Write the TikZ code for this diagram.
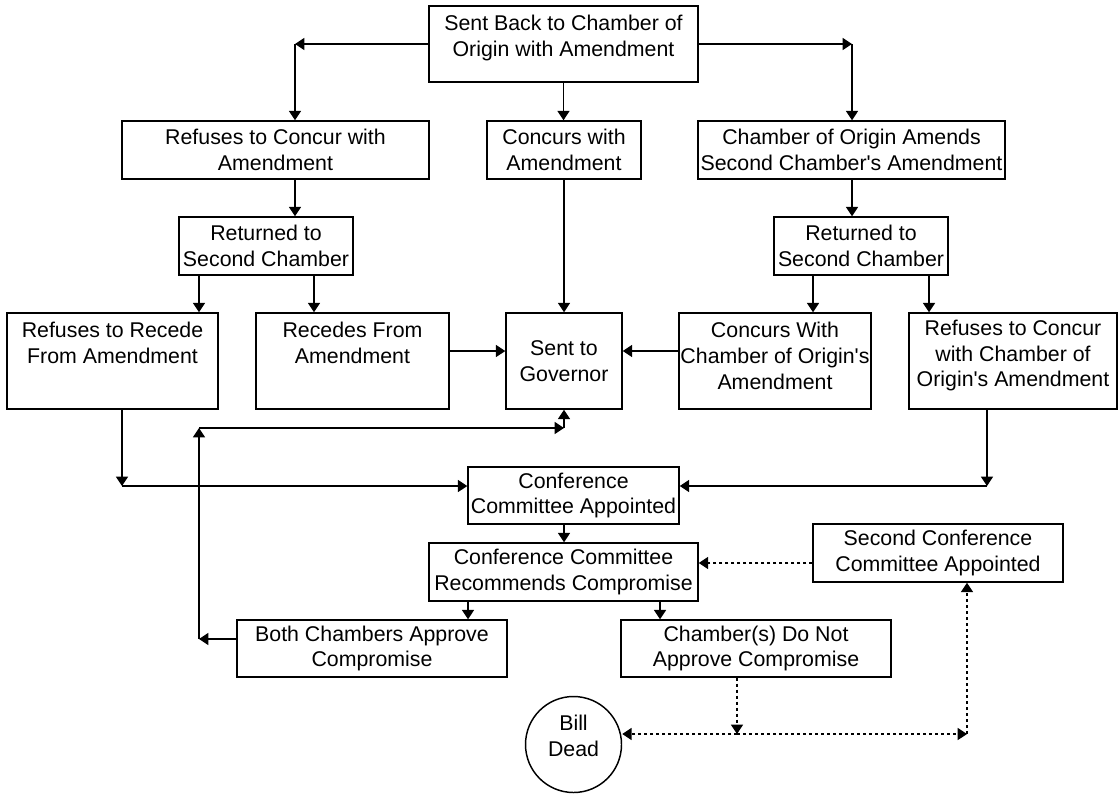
\documentclass[tikz,border=0pt]{standalone}
\usepackage{fontspec}
\newfontfamily\arialf{Liberation Sans}
\usetikzlibrary{arrows.meta}
\begin{document}
\begin{tikzpicture}[x=0.75pt,y=-0.75pt,
  every node/.style={font=\arialf\fontsize{16}{19.3}\selectfont},
  box/.style={draw,line width=1.1pt,rectangle,inner sep=0pt,align=center},
  lbl/.style={align=center,inner sep=0pt,font=\arialf\fontsize{16}{19.3}\selectfont},
  arr/.style={line width=1.1pt,-{Triangle[length=7pt,width=9pt]}},
  dotline/.style={dash pattern=on 2.25pt off 2.25pt}]
\useasboundingbox (0,0) rectangle (1119,793);
% boxes
\node[box,minimum width=201.75pt,minimum height=57pt,
  label={[lbl,yshift=4.5pt]center:{Sent Back to Chamber of\\Origin with Amendment}}] (T) at (563.5,44) {};
\node[box,minimum width=230.25pt,minimum height=43.5pt] (R1) at (275.5,150) {Refuses to Concur with\\Amendment};
\node[box,minimum width=115.5pt,minimum height=43.5pt] (C1) at (564,150) {Concurs with\\Amendment};
\node[box,minimum width=230.25pt,minimum height=43.5pt] (A1) at (851.5,150) {Chamber of Origin Amends\\Second Chamber's Amendment};
\node[box,minimum width=130.5pt,minimum height=43.5pt] (RT1) at (266,246) {Returned to\\Second Chamber};
\node[box,minimum width=130.5pt,minimum height=43.5pt] (RT2) at (861,246) {Returned to\\Second Chamber};
\node[box,minimum width=158.25pt,minimum height=72pt,
  label={[lbl,yshift=13.5pt]center:{Refuses to Recede\\From Amendment}}] (RR) at (112.5,361) {};
\node[box,minimum width=144.75pt,minimum height=72pt,
  label={[lbl,yshift=13.5pt]center:{Recedes From\\Amendment}}] (RF) at (352.5,361) {};
\node[box,minimum width=87pt,minimum height=72pt] (SG) at (564,361) {Sent to\\Governor};
\node[box,minimum width=144pt,minimum height=72pt,
  label={[lbl,yshift=4pt]center:{Concurs With\\Chamber of Origin's\\Amendment}}] (CW) at (775,361) {};
\node[box,minimum width=156pt,minimum height=72pt,
  label={[lbl,yshift=4pt]center:{Refuses to Concur\\with Chamber of\\Origin's Amendment}}] (RC) at (1013,361) {};
\node[box,minimum width=158.25pt,minimum height=42.75pt] (CA) at (573.5,495.5) {Conference\\Committee Appointed};
\node[box,minimum width=201.75pt,minimum height=43.5pt] (CR) at (563.5,572) {Conference Committee\\Recommends Compromise};
\node[box,minimum width=187.5pt,minimum height=43.5pt] (SC) at (938,553) {Second Conference\\Committee Appointed};
\node[box,minimum width=202.5pt,minimum height=42.75pt] (BC) at (372,648.5) {Both Chambers Approve\\Compromise};
\node[box,minimum width=202.5pt,minimum height=42.75pt] (CN) at (756,648.5) {Chamber(s) Do Not\\Approve Compromise};
\node[draw,line width=1.1pt,circle,inner sep=0pt,minimum size=72pt,
  label={[lbl,yshift=6.6pt]center:{Bill\\Dead}}] (BD) at (573.5,744.5) {};
% helper coordinates
\coordinate (kL) at (295,44);
\coordinate (kR) at (852,44);
\coordinate (kRR) at (122,486);
\coordinate (kRC) at (987,486);
\coordinate (kB1) at (199,639);
\coordinate (kB2) at (199,428);
\coordinate (kB3) at (564,428);
\coordinate (kD) at (737,734);
\coordinate (kS) at (967,734);
\coordinate (xRF) at (314,0);
\coordinate (xCW) at (813,0);
\coordinate (xRC) at (929,0);
\coordinate (xBC) at (468,0);
\coordinate (xCN) at (660,0);
\coordinate (yG) at (0,351);
\coordinate (ySC) at (0,563);
% connectors
\draw[arr] (T.west) -- (kL);
\draw[arr] (kL) -- (kL |- R1.north);
\draw[arr] (T.east) -- (kR);
\draw[arr] (kR) -- (kR |- A1.north);
\draw[arr] (T.south) -- (T.south |- C1.north);
\draw[arr] (kL |- R1.south) -- (kL |- RT1.north);
\draw[arr] (kR |- A1.south) -- (kR |- RT2.north);
\draw[arr] (RT1.south -| kB1) -- (RR.north -| kB1);
\draw[arr] (RT1.south -| xRF) -- (RF.north -| xRF);
\draw[arr] (RT2.south -| xCW) -- (CW.north -| xCW);
\draw[arr] (RT2.south -| xRC) -- (RC.north -| xRC);
\draw[arr] (C1.south) -- (C1.south |- SG.north);
\draw[arr] (RF.east |- yG) -- (SG.west |- yG);
\draw[arr] (CW.west |- yG) -- (SG.east |- yG);
\draw[arr] (RR.south -| kRR) -- (kRR);
\draw[arr] (kRR) -- (CA.west |- kRR);
\draw[arr] (RC.south -| kRC) -- (kRC);
\draw[arr] (kRC) -- (CA.east |- kRC);
\draw[arr] (BC.west |- kB1) -- (kB1);
\draw[arr] (kB1) -- (kB2);
\draw[arr] (kB2) -- (kB3);
\draw[arr] (kB3) -- (SG.south -| kB3);
\draw[arr] (CA.south -| kB3) -- (CR.north -| kB3);
\draw[arr] (CR.south -| xBC) -- (BC.north -| xBC);
\draw[arr] (CR.south -| xCN) -- (CN.north -| xCN);
\draw[arr,dotline] (SC.west |- ySC) -- (CR.east |- ySC);
\draw[arr,dotline] (CN.south -| kD) -- (kD);
\draw[arr,dotline] (kD) -- (kD -| BD.east);
\draw[arr,dotline] (kD) -- (kS);
\draw[arr,dotline] (kS) -- (SC.south -| kS);
\end{tikzpicture}
\end{document}
